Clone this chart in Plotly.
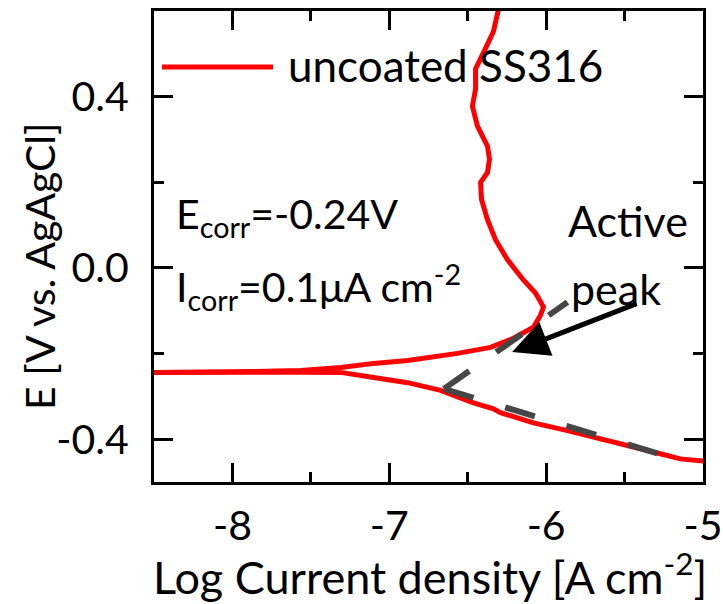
import plotly.graph_objects as go

# Potentiodynamic polarization curve of uncoated SS316 (log|i| vs. E)
log_i = [-4.998, -5.145, -5.272, -5.444, -5.654, -5.864, -6.081, -6.291, -6.336,
         -6.463, -6.673, -6.883, -7.100, -7.310, -7.565, -7.883, -8.200, -8.494, -8.62,
         -8.62, -8.494, -7.883, -7.565, -7.310, -7.100, -6.883, -6.565, -6.355,
         -6.208, -6.081, -6.036, -6.017, -6.068, -6.145, -6.246, -6.323, -6.374,
         -6.412, -6.418, -6.374, -6.361, -6.374, -6.438, -6.470, -6.450, -6.450,
         -6.387, -6.336, -6.304, -6.291]
potential = [-0.451, -0.446, -0.434, -0.418, -0.397, -0.380, -0.362, -0.338, -0.329,
             -0.315, -0.286, -0.268, -0.256, -0.244, -0.2435, -0.2435, -0.244, -0.244, -0.2445,
             -0.2435, -0.243, -0.242, -0.2395, -0.2325, -0.223, -0.216, -0.1996, -0.1855,
             -0.1644, -0.1385, -0.1103, -0.0915, -0.0587, -0.0281, 0.0188, 0.0658, 0.1128,
             0.1597, 0.1997, 0.2229, 0.2537, 0.2842, 0.3312, 0.378, 0.418, 0.465,
             0.512, 0.552, 0.604, 0.618]

# Tafel extrapolation lines, both starting from their intersection
tafel_anodic_x = [-6.652, -5.864]
tafel_anodic_y = [-0.2825, -0.080]
tafel_cathodic_x = [-6.652, -5.272]
tafel_cathodic_y = [-0.2825, -0.435]

x_tick_vals = [-8, -7, -6, -5]
x_tick_text = ["-8", "-7", "-6", "-5"]
y_tick_vals = [-0.4, 0.0, 0.4]
y_tick_text = ["-0.4", "0.0", "0.4"]

series_name = "uncoated SS316"
FONT = "Lato"
RED = "#ff0000"
GREY = "#464646"

fig = go.Figure()
fig.add_trace(go.Scatter(x=log_i, y=potential, mode="lines", name=series_name,
                         line=dict(color=RED, width=5)))
for tx, ty in ((tafel_anodic_x, tafel_anodic_y), (tafel_cathodic_x, tafel_cathodic_y)):
    fig.add_trace(go.Scatter(x=tx, y=ty, mode="lines", showlegend=False,
                             line=dict(color=GREY, width=6, dash="31px,33px")))

axis_common = dict(showline=True, linewidth=3, linecolor="black", mirror="ticks",
                   ticks="inside", ticklen=19, tickwidth=3, tickcolor="black",
                   showgrid=False, zeroline=False, automargin=False,
                   tickfont=dict(family=FONT, size=41, color="black"))

fig.update_xaxes(range=[-8.5, -5], tickvals=x_tick_vals, ticktext=x_tick_text,
                 minor=dict(ticks="inside", ticklen=10, tickwidth=3, tickcolor="black",
                            dtick=0.5, tick0=0, showgrid=False),
                 ticklabelstandoff=6, **axis_common)
fig.update_yaxes(range=[-0.5, 0.6], tickvals=y_tick_vals, ticktext=y_tick_text,
                 minor=dict(ticks="inside", ticklen=10, tickwidth=3, tickcolor="black",
                            dtick=0.2, tick0=0, showgrid=False),
                 ticklabelstandoff=14, **axis_common)

annotations = [
    # axis titles
    dict(text="Log Current density [A cm<sup>-2</sup>]", xref="paper", yref="paper",
         x=(430 - 154) / 549, y=-0.195, xanchor="center", yanchor="middle", showarrow=False,
         font=dict(family=FONT, size=45, color="black")),
    dict(text="E [V vs. AgAgCl]", xref="paper", yref="paper", textangle=-90,
         x=-0.2077, y=0.4586, xanchor="center", yanchor="middle", showarrow=False,
         font=dict(family=FONT, size=41, color="black")),
    # legend entry text
    dict(text=series_name, xref="paper", yref="paper", x=(286 - 154) / 549,
         y=(482 - 65) / 471, xanchor="left", yanchor="middle", showarrow=False,
         font=dict(family=FONT, size=44, color="black")),
    # corrosion parameters
    dict(text="E<sub>corr</sub>=-0.24V", xref="paper", yref="paper",
         x=(174 - 154) / 549, y=(482 - 216) / 471, xanchor="left", yanchor="middle",
         showarrow=False, font=dict(family=FONT, size=41, color="black")),
    dict(text="I<sub>corr</sub>=0.1\u03bcA cm<sup>-2</sup>", xref="paper", yref="paper",
         x=(174 - 154) / 549, y=(482 - 287) / 471, xanchor="left", yanchor="middle",
         showarrow=False, font=dict(family=FONT, size=41, color="black")),
    dict(text="Active", xref="paper", yref="paper", x=(628 - 154) / 549,
         y=(482 - 220) / 471, xanchor="center", yanchor="middle", showarrow=False,
         font=dict(family=FONT, size=43, color="black")),
    dict(text="peak", xref="paper", yref="paper", x=(616 - 154) / 549,
         y=(482 - 288) / 471, xanchor="center", yanchor="middle", showarrow=False,
         font=dict(family=FONT, size=43, color="black")),
    # arrow pointing at the active peak
    dict(text="", x=-6.217, y=-0.1965, xref="x", yref="y", ax=126, ay=-49,
         showarrow=True, arrowhead=2, arrowsize=1.45, arrowwidth=5, arrowcolor="black"),
]

# legend line sample
shapes = [dict(type="line", xref="paper", yref="paper",
               x0=(162 - 154) / 549, x1=(273 - 154) / 549,
               y0=(482 - 67) / 471, y1=(482 - 67) / 471,
               line=dict(color=RED, width=5))]

fig.update_layout(width=723, height=604, margin=dict(l=154, r=20, t=11, b=122),
                  plot_bgcolor="white", paper_bgcolor="white", showlegend=False,
                  annotations=annotations, shapes=shapes,
                  font=dict(family=FONT, color="black"))

fig.write_html("out.html")
